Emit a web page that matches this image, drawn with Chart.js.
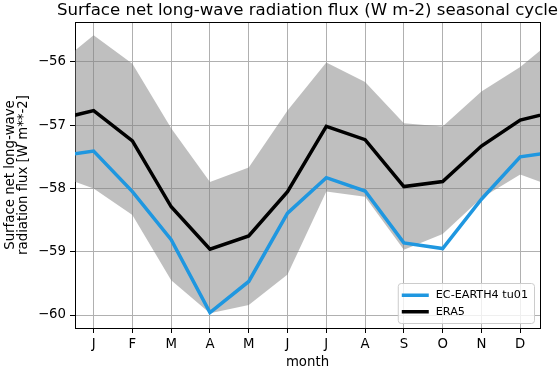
<!DOCTYPE html>
<html>
<head>
<meta charset="utf-8">
<script src="https://cdn.jsdelivr.net/npm/chart.js@4.4.1/dist/chart.umd.min.js"></script>
<style>
  html, body { margin: 0; padding: 0; background: #fff; }
</style>
</head>
<body>
<canvas id="chart" width="558" height="369"></canvas>
<script>
// monthly values, J..D
const months = ['J', 'F', 'M', 'A', 'M', 'J', 'J', 'A', 'S', 'O', 'N', 'D'];
const ecEarth = [-57.41, -58.05, -58.81, -59.96, -59.47, -58.39, -57.83, -58.04, -58.86, -58.95, -58.17, -57.50];
const era5 = [-56.77, -57.25, -58.29, -58.96, -58.75, -58.05, -57.02, -57.23, -57.97, -57.89, -57.33, -56.92];
const era5Max = [-55.58, -56.03, -57.05, -57.90, -57.67, -56.77, -56.01, -56.32, -56.97, -57.02, -56.47, -56.08];
const era5Min = [-58.00, -58.42, -59.45, -59.97, -59.84, -59.36, -58.05, -58.13, -58.97, -58.72, -58.15, -57.78];
const yTicks = [-60, -59, -58, -57, -56];
const titleText = 'Surface net long-wave radiation flux (W m-2) seasonal cycle';

// cycle is closed: December in front of January and January after December
function wrap(arr) {
    const vals = [arr[11]].concat(arr, [arr[0]]);
    return vals.map((v, i) => ({ x: i, y: v }));
}

const FONT = 'DejaVu Sans';
Chart.defaults.font.family = FONT;
Chart.defaults.color = '#000';

// title, top/right spines and the legend box
const decorPlugin = {
    id: 'decor',
    afterDraw(chart) {
        const { ctx, chartArea: a } = chart;
        ctx.save();
        ctx.strokeStyle = '#000';
        ctx.lineWidth = 1;
        ctx.beginPath();
        ctx.moveTo(a.left, Math.round(a.top) + 0.5);
        ctx.lineTo(a.right + 0.5, Math.round(a.top) + 0.5);
        ctx.moveTo(Math.round(a.right) + 0.5, a.top);
        ctx.lineTo(Math.round(a.right) + 0.5, a.bottom);
        ctx.stroke();

        ctx.fillStyle = '#000';
        ctx.font = '16.6px "' + FONT + '"';
        ctx.textAlign = 'center';
        ctx.textBaseline = 'alphabetic';
        ctx.fillText(titleText, (a.left + a.right) / 2, 15);

        // legend
        const items = chart.data.datasets.filter(d => d.label);
        ctx.font = '11.2px "' + FONT + '"';
        let textW = 0;
        items.forEach(d => { textW = Math.max(textW, ctx.measureText(d.label).width); });
        const boxW = 4 + 27 + 7 + textW + 6;
        const rowH = 16.5;
        const boxH = 4 + rowH * items.length + 3;
        const bx = a.right - 6 - boxW;
        const by = a.bottom - 5 - boxH;
        ctx.beginPath();
        ctx.roundRect(bx + 0.5, by + 0.5, boxW, boxH, 3);
        ctx.fillStyle = 'rgba(255,255,255,0.8)';
        ctx.fill();
        ctx.strokeStyle = '#cccccc';
        ctx.stroke();
        items.forEach((d, i) => {
            const cy = by + 4 + rowH * i + rowH / 2;
            ctx.strokeStyle = d.borderColor;
            ctx.lineWidth = d.borderWidth;
            ctx.beginPath();
            ctx.moveTo(bx + 4, cy);
            ctx.lineTo(bx + 31, cy);
            ctx.stroke();
            ctx.fillStyle = '#000';
            ctx.textAlign = 'left';
            ctx.textBaseline = 'middle';
            ctx.fillText(d.label, bx + 38, cy);
        });
        ctx.restore();
    }
};

new Chart(document.getElementById('chart'), {
    type: 'line',
    data: {
        datasets: [
            {
                label: 'EC-EARTH4 tu01',
                data: wrap(ecEarth),
                borderColor: '#1f97e0',
                borderWidth: 3.5,
                pointRadius: 0,
                tension: 0,
                clip: 0,
            },
            {
                label: 'ERA5',
                data: wrap(era5),
                borderColor: '#000000',
                borderWidth: 3.5,
                pointRadius: 0,
                tension: 0,
                clip: 0,
            },
            {
                data: wrap(era5Max),
                borderWidth: 0,
                pointRadius: 0,
                backgroundColor: 'rgba(128,128,128,0.5)',
                fill: '+1',
                clip: 0,
            },
            {
                data: wrap(era5Min),
                borderWidth: 0,
                pointRadius: 0,
                fill: false,
                clip: 0,
            }
        ]
    },
    options: {
        responsive: false,
        animation: false,
        devicePixelRatio: 1,
        layout: { padding: { top: 22, right: 18, left: 0, bottom: 0 } },
        plugins: {
            legend: { display: false },
            tooltip: { enabled: false },
        },
        scales: {
            x: {
                type: 'linear',
                min: 0.52,
                max: 12.51,
                afterBuildTicks: (scale) => {
                    scale.ticks = months.map((m, i) => ({ value: i + 1 }));
                },
                afterFit: (scale) => { scale.height = 41; },
                ticks: {
                    autoSkip: false,
                    maxRotation: 0,
                    padding: 4,
                    font: { size: 13.3 },
                    callback: (value) => months[Math.round(value) - 1],
                },
                grid: { color: '#b0b0b0', lineWidth: 1, tickLength: 5, tickColor: '#000' },
                border: { color: '#000', width: 1 },
                title: {
                    display: true,
                    text: 'month',
                    font: { size: 13.3, lineHeight: 1 },
                    padding: 0,
                },
            },
            y: {
                min: -60.205,
                max: -55.37,
                afterBuildTicks: (scale) => {
                    scale.ticks = yTicks.map(v => ({ value: v }));
                },
                afterFit: (scale) => { scale.width = 75; },
                ticks: {
                    padding: 4,
                    font: { size: 13.3 },
                    callback: (value) => String(value).replace('-', '\u2212'),
                },
                grid: { color: '#b0b0b0', lineWidth: 1, tickLength: 5, tickColor: '#000' },
                border: { color: '#000', width: 1 },
                title: {
                    display: true,
                    text: ['Surface net long-wave', 'radiation flux [W m**-2]'],
                    font: { size: 13.3, lineHeight: 1 },
                    padding: { top: 3.5, bottom: 0 },
                },
            }
        }
    },
    plugins: [decorPlugin]
});
</script>
</body>
</html>
